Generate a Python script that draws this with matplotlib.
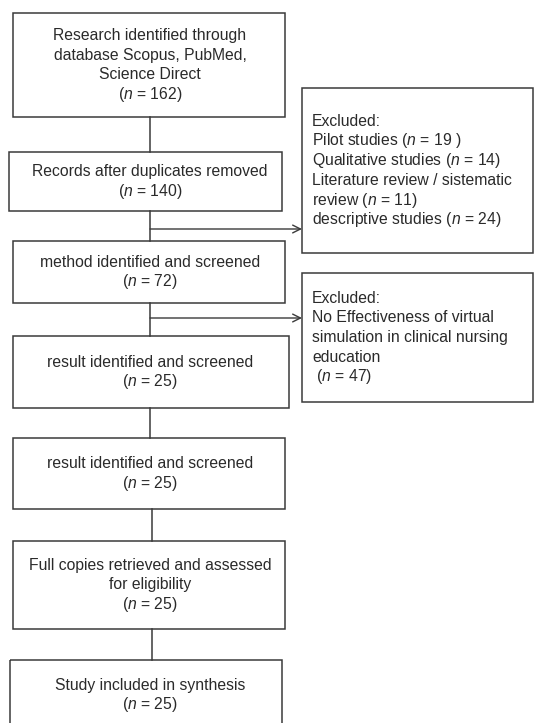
import matplotlib
matplotlib.use("Agg")
import matplotlib.pyplot as plt
from matplotlib.patches import Rectangle

plt.rcParams['font.family'] = ['Liberation Sans', 'DejaVu Sans']
plt.rcParams['mathtext.fontset'] = 'custom'
plt.rcParams['mathtext.rm'] = 'Liberation Sans'
plt.rcParams['mathtext.it'] = 'Liberation Sans:italic'

# main flow: stage text and count
stage_labels = [
    "Research identified through\ndatabase Scopus, PubMed,\nScience Direct",
    "Records after duplicates removed",
    "method identified and screened",
    "result identified and screened",
    "result identified and screened",
    "Full copies retrieved and assessed\nfor eligibility",
    "Study included in synthesis",
]
stage_n = [162, 140, 72, 25, 25, 25, 25]

# side boxes (excluded records)
excl1_lines = [
    "Excluded:",
    "Pilot studies ($\\it{n}$ = 19 )",
    "Qualitative studies ($\\it{n}$ = 14)",
    "Literature review / sistematic",
    "review ($\\it{n}$ = 11)",
    "descriptive studies ($\\it{n}$ = 24)",
]
excl2_lines = [
    "Excluded:",
    "No Effectiveness of virtual",
    "simulation in clinical nursing",
    "education",
    " ($\\it{n}$ = 47)",
]

# box geometry in pixels: (left, top, right, bottom)
stage_boxes = [
    (13, 13, 285, 117),
    (9, 152, 282, 211),
    (13, 241, 285, 303),
    (13, 336, 289, 408),
    (13, 438, 285, 509),
    (13, 541, 285, 629),
    (10, 660, 282, 740),
]
excl_boxes = [(302, 88, 533, 253), (302, 273, 533, 402)]
arrow_y = [229, 318]

EDGE = '#3a3a3a'
TXT = '#2a2a2a'
PITCH = 19.7
FS = 11.3

fig = plt.figure(figsize=(5.35, 7.23), dpi=100)
ax = fig.add_axes([0, 0, 1, 1])
ax.set_xlim(0, 535)
ax.set_ylim(723, 0)
ax.axis('off')


def draw_box(b):
    l, t, r, btm = b
    ax.add_patch(Rectangle((l, t), r - l, btm - t, fill=False,
                           edgecolor=EDGE, linewidth=1.1))


def draw_lines(lines, x, yc, ha):
    y0 = yc - (len(lines) - 1) * PITCH / 2
    for i, s in enumerate(lines):
        ax.text(x, y0 + i * PITCH, s, ha=ha, va='center', fontsize=FS, color=TXT)


for b, lab, n in zip(stage_boxes, stage_labels, stage_n):
    draw_box(b)
    lines = lab.split('\n') + [f"($\\it{{n}}$ = {n})"]
    yc = (b[1] + b[3]) / 2 if b[3] < 723 else b[1] + 35
    draw_lines(lines, 150, yc, 'center')

# connectors
for a, b in zip(stage_boxes[:-1], stage_boxes[1:]):
    xs = 150 if a[1] < 420 else 152
    ax.plot([xs, xs], [a[3], b[1]], color=EDGE, lw=1.1)

for b, lines in zip(excl_boxes, [excl1_lines, excl2_lines]):
    draw_box(b)
    draw_lines(lines, 312, (b[1] + b[3]) / 2, 'left')

for y in arrow_y:
    ax.annotate('', xy=(302, y), xytext=(150, y),
                arrowprops=dict(arrowstyle='->', color=EDGE, lw=1.0,
                                mutation_scale=14, shrinkA=0, shrinkB=0))

fig.savefig('out.png', dpi=100, facecolor='white')
